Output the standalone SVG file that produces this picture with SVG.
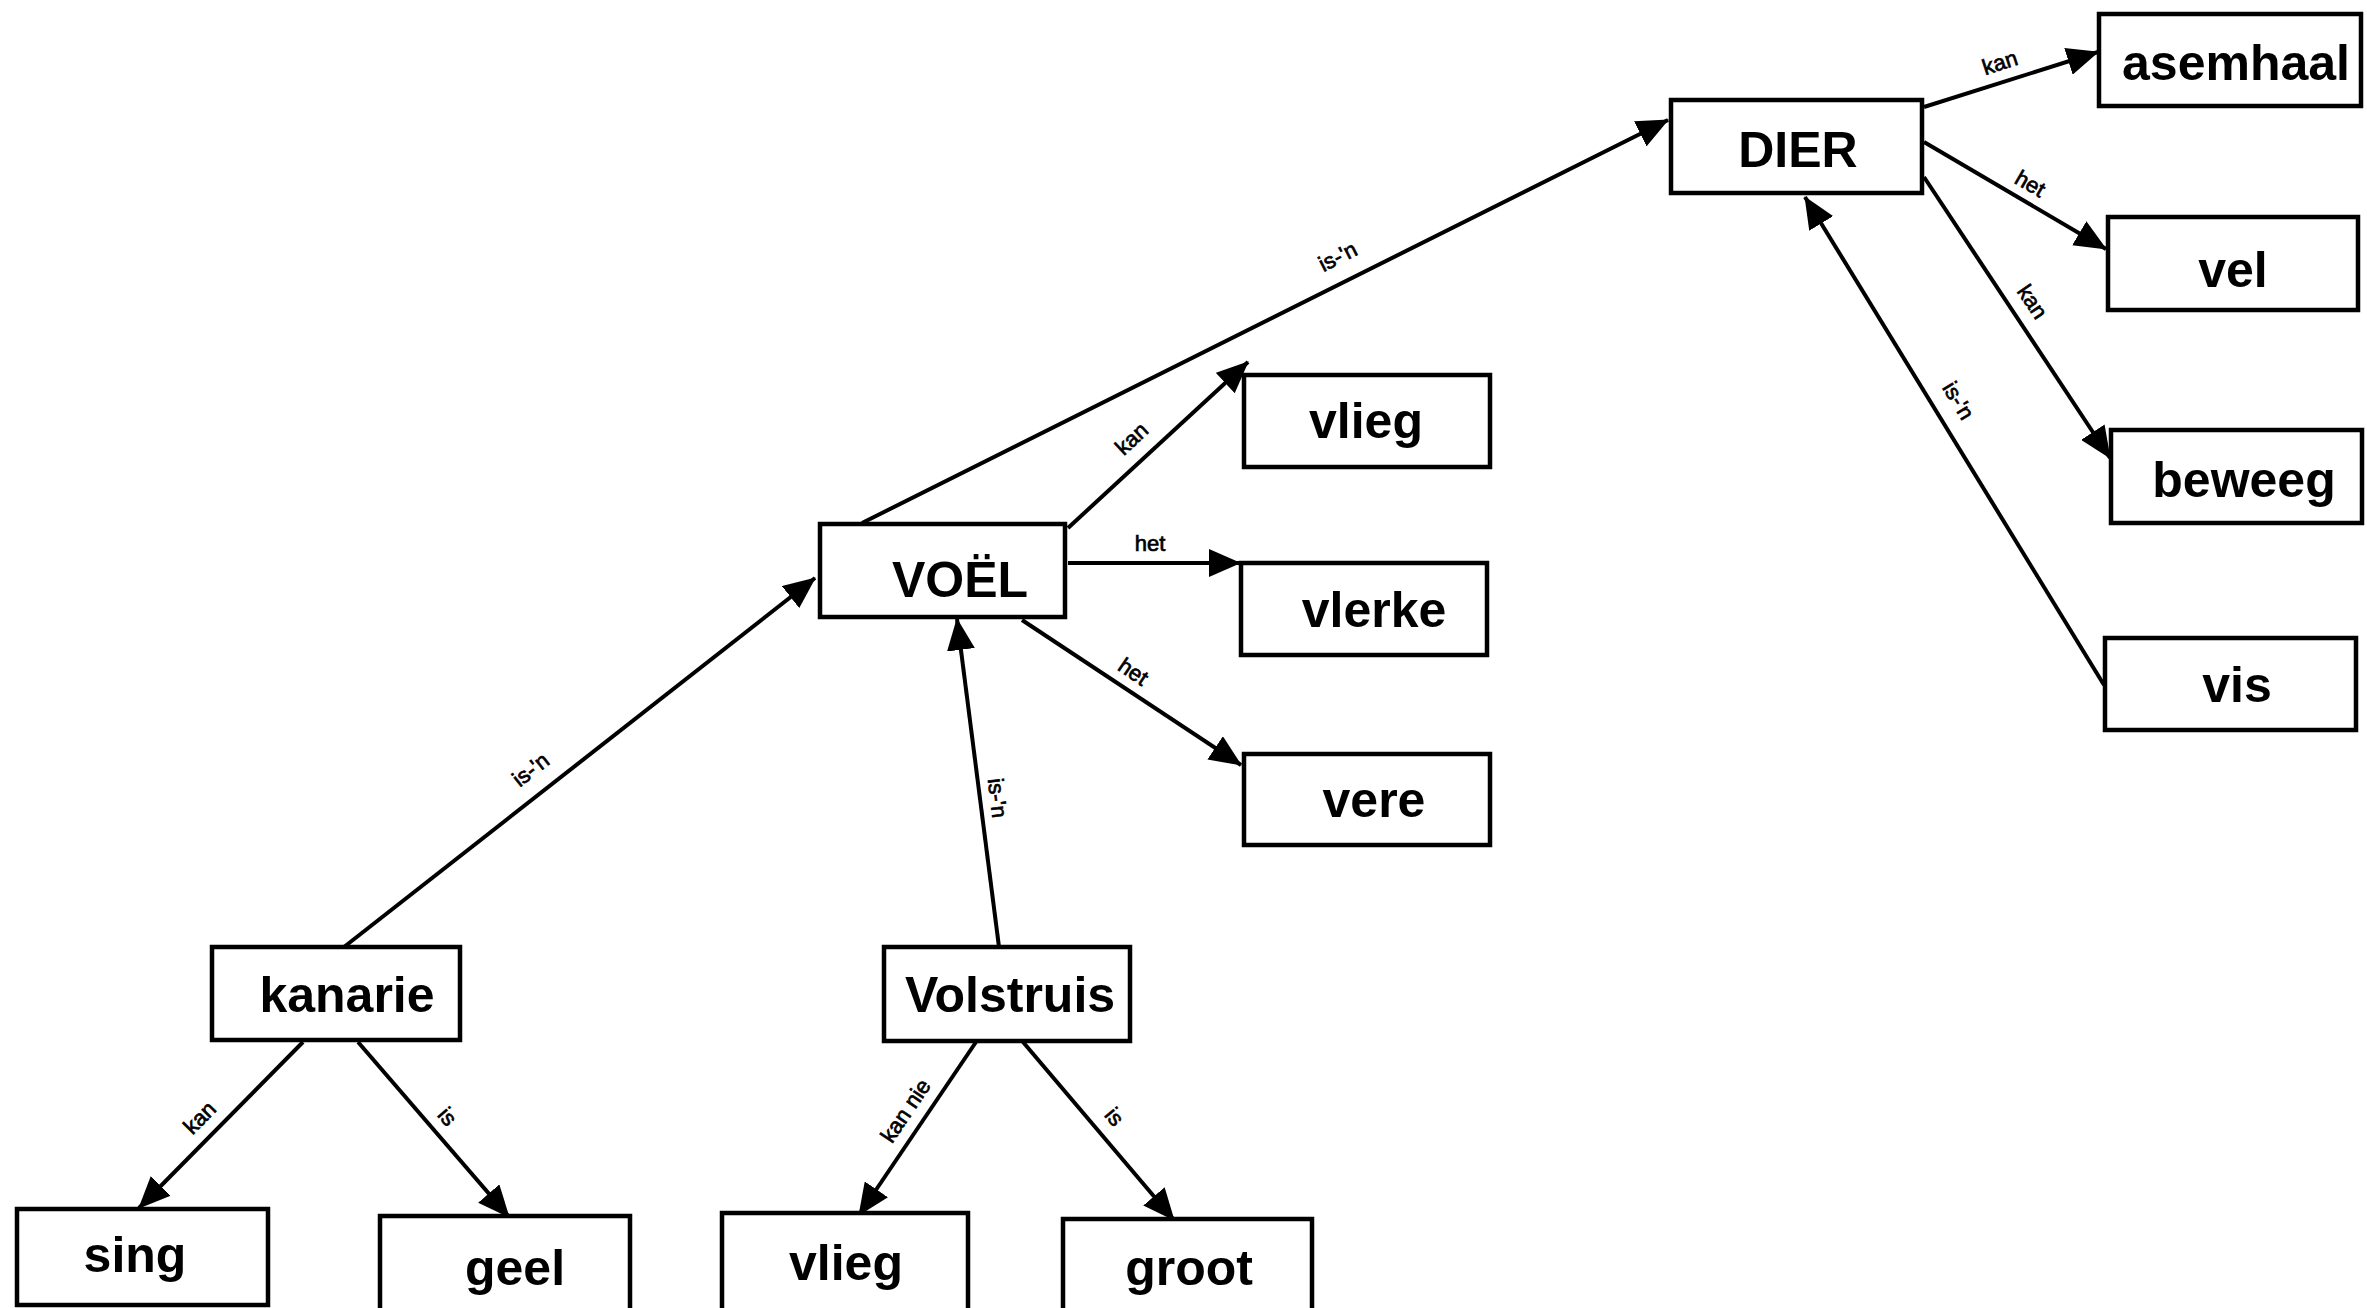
<svg xmlns="http://www.w3.org/2000/svg" width="2367" height="1308" viewBox="0 0 2367 1308">
  <style>
    .box { fill: #fff; stroke: #000; stroke-width: 4.5; }
    .node { font-family: "Liberation Sans", Arial, sans-serif; font-weight: bold; font-size: 50px; text-anchor: middle; fill: #000; }
    .edge { stroke: #000; stroke-width: 4; fill: none; marker-end: url(#arrow); }
    .lbl { font-family: "Liberation Sans", Arial, sans-serif; font-size: 22px; text-anchor: middle; fill: #000; stroke: #000; stroke-width: 0.7; }
  </style>
  <defs>
    <marker id="arrow" markerUnits="userSpaceOnUse" viewBox="0 0 32 28" markerWidth="32" markerHeight="28" refX="31" refY="14" orient="auto">
      <path d="M0,0 L32,14 L0,28 z" fill="#000"/>
    </marker>
  </defs>
  <rect width="2367" height="1308" fill="#fff"/>

  <!-- connectors -->
  <g id="connectors">
    <line class="edge" x1="1924" y1="107" x2="2098" y2="52"/>
    <line class="edge" x1="1924" y1="142" x2="2106" y2="249"/>
    <line class="edge" x1="1924" y1="177" x2="2110" y2="458"/>
    <line class="edge" x1="2104" y1="685" x2="1805" y2="197"/>
    <line class="edge" x1="862" y1="523" x2="1668" y2="120"/>
    <line class="edge" x1="1068" y1="528" x2="1248" y2="362"/>
    <line class="edge" x1="1068" y1="563" x2="1240" y2="563"/>
    <line class="edge" x1="1022" y1="620" x2="1241" y2="765"/>
    <line class="edge" x1="999" y1="947" x2="957" y2="619"/>
    <line class="edge" x1="344" y1="947" x2="815" y2="578"/>
    <line class="edge" x1="303" y1="1042" x2="139" y2="1208"/>
    <line class="edge" x1="358" y1="1042" x2="509" y2="1217"/>
    <line class="edge" x1="976" y1="1042" x2="859" y2="1215"/>
    <line class="edge" x1="1023" y1="1042" x2="1174" y2="1220"/>

    <text class="lbl" transform="translate(2000,63) rotate(-18)" dy="7">kan</text>
    <text class="lbl" transform="translate(2030,184) rotate(30)" dy="7">het</text>
    <text class="lbl" transform="translate(2032,302) rotate(56)" dy="7">kan</text>
    <text class="lbl" transform="translate(1958,401) rotate(59)" dy="7">is-'n</text>
    <text class="lbl" transform="translate(1338,257) rotate(-27)" dy="7">is-'n</text>
    <text class="lbl" transform="translate(1132,439) rotate(-43)" dy="7">kan</text>
    <text class="lbl" transform="translate(1150,544)" dy="7">het</text>
    <text class="lbl" transform="translate(1133,672) rotate(34)" dy="7">het</text>
    <text class="lbl" transform="translate(997,798) rotate(83)" dy="7">is-'n</text>
    <text class="lbl" transform="translate(531,770) rotate(-38)" dy="7">is-'n</text>
    <text class="lbl" transform="translate(200,1118) rotate(-45)" dy="7">kan</text>
    <text class="lbl" transform="translate(447,1117) rotate(49)" dy="7">is</text>
    <text class="lbl" transform="translate(906,1111) rotate(-56)" dy="7">kan nie</text>
    <text class="lbl" transform="translate(1114,1117) rotate(50)" dy="7">is</text>
  </g>

  <!-- nodes -->
  <g id="dier"><rect class="box" x="1671" y="100" width="251" height="93"/><text class="node" x="1798" y="167">DIER</text></g>
  <g id="asemhaal"><rect class="box" x="2099" y="14" width="262" height="92"/><text class="node" x="2236" y="80">asemhaal</text></g>
  <g id="vel"><rect class="box" x="2108" y="217" width="250" height="93"/><text class="node" x="2233" y="287">vel</text></g>
  <g id="beweeg"><rect class="box" x="2111" y="430" width="251" height="93"/><text class="node" x="2244" y="497">beweeg</text></g>
  <g id="vis"><rect class="box" x="2105" y="638" width="251" height="92"/><text class="node" x="2237" y="702">vis</text></g>
  <g id="voel"><rect class="box" x="820" y="524" width="245" height="93"/><text class="node" x="960" y="597">VOËL</text></g>
  <g id="vlieg-1"><rect class="box" x="1244" y="375" width="246" height="92"/><text class="node" x="1366" y="438">vlieg</text></g>
  <g id="vlerke"><rect class="box" x="1241" y="563" width="246" height="92"/><text class="node" x="1374" y="627">vlerke</text></g>
  <g id="vere"><rect class="box" x="1244" y="754" width="246" height="91"/><text class="node" x="1374" y="817">vere</text></g>
  <g id="kanarie"><rect class="box" x="212" y="947" width="248" height="93"/><text class="node" x="347" y="1012">kanarie</text></g>
  <g id="volstruis"><rect class="box" x="884" y="947" width="246" height="94"/><text class="node" x="1010" y="1012">Volstruis</text></g>
  <g id="sing"><rect class="box" x="17" y="1209" width="251" height="96"/><text class="node" x="135" y="1272">sing</text></g>
  <g id="geel"><rect class="box" x="380" y="1216" width="250" height="95"/><text class="node" x="515" y="1285">geel</text></g>
  <g id="vlieg-2"><rect class="box" x="722" y="1213" width="246" height="98"/><text class="node" x="846" y="1280">vlieg</text></g>
  <g id="groot"><rect class="box" x="1063" y="1219" width="249" height="92"/><text class="node" x="1189" y="1285">groot</text></g>
</svg>
